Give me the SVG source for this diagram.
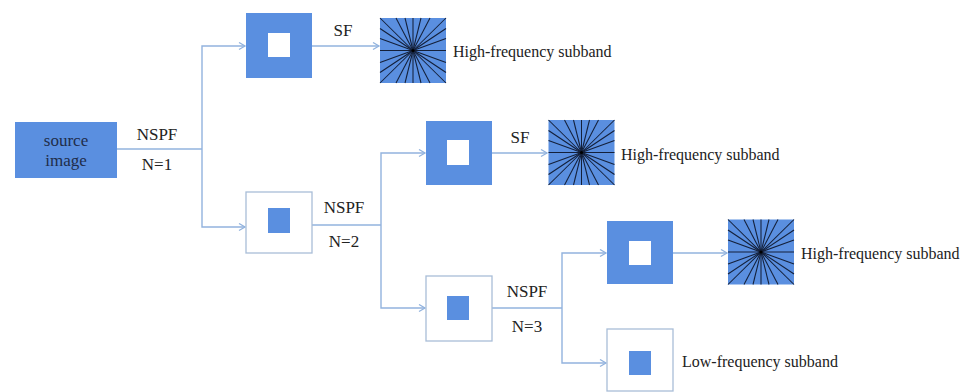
<svg xmlns="http://www.w3.org/2000/svg" width="973" height="392" viewBox="0 0 973 392">
<style>
.blue{fill:#5a8fe0}
.wbox{fill:#fff;stroke:#a9bdd8;stroke-width:1.3}
.hole{fill:#fff}
.conn{fill:none;stroke:#92b3de;stroke-width:1.4}
.lbl{font-family:"Liberation Serif","Times New Roman",serif;font-size:17px;fill:#222;text-anchor:middle}
.sub{font-family:"Liberation Serif","Times New Roman",serif;font-size:16px;fill:#222}
.spoke{stroke:#14203a;stroke-width:1.05}
</style>
<defs>
<marker id="arr" markerUnits="userSpaceOnUse" markerWidth="10" markerHeight="10" refX="7" refY="4" orient="auto">
<path d="M1,0.5 L7,4 L1,7.5" fill="none" stroke="#92b3de" stroke-width="1.3"/>
</marker>
<g id="star">
<rect x="-33" y="-32.5" width="66" height="65" fill="#5a8fe0"/>
<g class="spoke">
<line x1="-33" y1="0" x2="33" y2="0"/>
<line x1="0" y1="-32.5" x2="0" y2="32.5"/>
<line x1="-33" y1="-32.5" x2="33" y2="32.5"/>
<line x1="33" y1="-32.5" x2="-33" y2="32.5"/>
<line x1="-17" y1="-32.5" x2="17" y2="32.5"/>
<line x1="-8" y1="-32.5" x2="8" y2="32.5"/>
<line x1="8" y1="-32.5" x2="-8" y2="32.5"/>
<line x1="17" y1="-32.5" x2="-17" y2="32.5"/>
<line x1="-33" y1="-22" x2="33" y2="22"/>
<line x1="-33" y1="-12" x2="33" y2="12"/>
<line x1="-33" y1="12" x2="33" y2="-12"/>
<line x1="-33" y1="22" x2="33" y2="-22"/>
</g>
<circle cx="0" cy="0" r="1.6" fill="#000"/>
</g>
</defs>
<rect width="973" height="392" fill="#fff"/>

<g id="connectors">
<path class="conn" d="M117,149 H202"/>
<path class="conn" d="M202,149 V46 H245" marker-end="url(#arr)"/>
<path class="conn" d="M202,149 V227 H245" marker-end="url(#arr)"/>
<path class="conn" d="M312,46 H379" marker-end="url(#arr)"/>
<path class="conn" d="M312,225 H381"/>
<path class="conn" d="M381,225 V153 H425" marker-end="url(#arr)"/>
<path class="conn" d="M381,225 V308 H425" marker-end="url(#arr)"/>
<path class="conn" d="M492,153 H547" marker-end="url(#arr)"/>
<path class="conn" d="M492,308 H562"/>
<path class="conn" d="M562,308 V253 H606" marker-end="url(#arr)"/>
<path class="conn" d="M562,308 V363 H606" marker-end="url(#arr)"/>
<path class="conn" d="M673,253 H727" marker-end="url(#arr)"/>
</g>

<g id="labels">
<text class="lbl" x="157" y="140">NSPF</text>
<text class="lbl" x="157" y="170">N=1</text>
<text class="lbl" x="343" y="36">SF</text>
<text class="lbl" x="344" y="213">NSPF</text>
<text class="lbl" x="344" y="247">N=2</text>
<text class="lbl" x="520" y="143">SF</text>
<text class="lbl" x="527" y="297">NSPF</text>
<text class="lbl" x="527" y="332">N=3</text>
</g>

<g id="source">
<rect class="blue" x="15" y="122" width="102" height="56"/>
<text class="lbl" x="66" y="146" style="fill:#1f2d4a">source</text>
<text class="lbl" x="66" y="166" style="fill:#1f2d4a">image</text>
</g>

<g id="hp1">
<rect class="blue" x="246" y="13" width="66" height="65"/>
<rect class="hole" x="268" y="33" width="22" height="24"/>
</g>
<g id="lp1">
<rect class="wbox" x="246" y="192" width="66" height="61"/>
<rect class="blue" x="268" y="208" width="22" height="25"/>
</g>
<g id="hf1">
<use href="#star" x="413" y="50.5"/>
<text class="sub" x="453" y="57">High-frequency subband</text>
</g>

<g id="hp2">
<rect class="blue" x="426" y="121" width="66" height="64"/>
<rect class="hole" x="447" y="140" width="22" height="25"/>
</g>
<g id="lp2">
<rect class="wbox" x="426" y="276" width="66" height="65"/>
<rect class="blue" x="447" y="296" width="22" height="24"/>
</g>
<g id="hf2">
<use href="#star" x="581.5" y="152.5"/>
<text class="sub" x="621" y="160">High-frequency subband</text>
</g>

<g id="hp3">
<rect class="blue" x="607" y="221" width="66" height="63"/>
<rect class="hole" x="629" y="241" width="22" height="24"/>
</g>
<g id="lp3">
<rect class="wbox" x="607" y="329" width="66" height="62"/>
<rect class="blue" x="629" y="351" width="22" height="24"/>
<text class="sub" x="682" y="367">Low-frequency subband</text>
</g>
<g id="hf3">
<use href="#star" x="761" y="252"/>
<text class="sub" x="801" y="259">High-frequency subband</text>
</g>
</svg>
